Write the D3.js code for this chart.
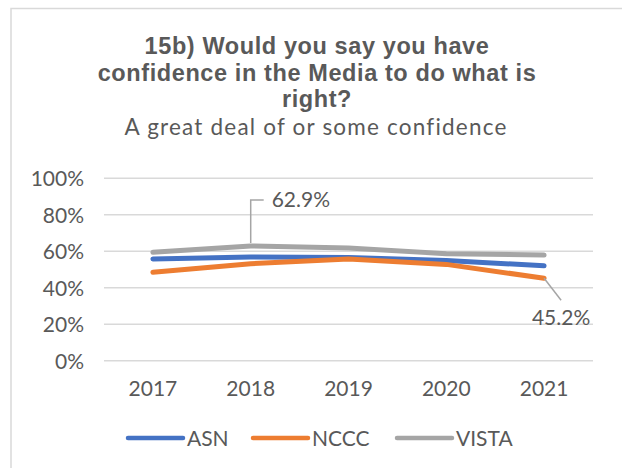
<!DOCTYPE html>
<html>
<head>
<meta charset="utf-8">
<script src="https://cdn.jsdelivr.net/npm/d3@7"></script>
<style>
  html, body { margin: 0; padding: 0; background: #fff; }
  svg { display: block; }
  text { font-family: Lato, "Open Sans", sans-serif; fill: #595959; }
</style>
</head>
<body>
<svg id="chart" width="622" height="468"></svg>
<script>
const years = ["2017", "2018", "2019", "2020", "2021"];
const asn   = [55.8, 56.9, 56.6, 55.0, 52.0];
const nccc  = [48.5, 53.2, 55.7, 52.8, 45.2];
const vista = [59.4, 62.9, 61.8, 58.7, 57.9];
const yTicks = [0, 20, 40, 60, 80, 100];
const seriesNames = ["ASN", "NCCC", "VISTA"];
const seriesColors = ["#4472C4", "#ED7D31", "#A5A5A5"];
const titleLines = ["15b) Would you say you have", "confidence in the Media to do what is", "right?"];
const subtitle = "A great deal of or some confidence";

const series = [
  { name: seriesNames[0], values: asn, color: seriesColors[0] },
  { name: seriesNames[1], values: nccc, color: seriesColors[1] },
  { name: seriesNames[2], values: vista, color: seriesColors[2] }
];

const svg = d3.select("#chart");
const W = 622, H = 468;
const plot = { left: 104, right: 593, top: 178.3, bottom: 360.7 };
const labelWeight = "400";

// chart frame
svg.append("rect")
  .attr("x", 11).attr("y", 8.5)
  .attr("width", W + 20).attr("height", H + 20)
  .attr("fill", "#fff").attr("stroke", "#d9d9d9").attr("stroke-width", 1.5);

// title (one text element per line)
const titleY = [53.5, 80.5, 107];
svg.append("g").selectAll("text").data(titleLines).join("text")
  .attr("x", 317).attr("y", (d, i) => titleY[i])
  .attr("text-anchor", "middle")
  .style("font-family", '"Liberation Sans", Arial, sans-serif')
  .style("font-weight", "700").style("font-size", "23.5px")
  .style("letter-spacing", "0.6px")
  .text(d => d);
svg.append("text")
  .attr("x", 316).attr("y", 134.5)
  .attr("text-anchor", "middle")
  .style("font-size", "22.5px").style("font-weight", labelWeight)
  .style("letter-spacing", "1.2px")
  .text(subtitle);

const x = d3.scaleBand().domain(years).range([plot.left, plot.right]).padding(0);
const y = d3.scaleLinear().domain([0, 100]).range([plot.bottom, plot.top]);
const xc = d => x(d) + x.bandwidth() / 2;

// gridlines
svg.append("g").selectAll("line").data(yTicks).join("line")
  .attr("x1", plot.left).attr("x2", plot.right)
  .attr("y1", d => y(d)).attr("y2", d => y(d))
  .attr("stroke", "#d9d9d9").attr("stroke-width", 1.5);

// y axis
const yAxis = d3.axisLeft(y).tickValues(yTicks).tickFormat(d => d + "%").tickSize(0).tickPadding(0);
const gy = svg.append("g").attr("transform", `translate(${84},0)`).call(yAxis);
gy.select(".domain").remove();
gy.selectAll("text").style("font-size", "21px").style("font-family", 'Lato, sans-serif').style("font-weight", labelWeight).attr("fill", "#595959").attr("dy", "0.35em");

// x axis
const xAxis = d3.axisBottom(x).tickSize(0).tickPadding(0);
const gx = svg.append("g").attr("transform", `translate(0,${plot.bottom})`).call(xAxis);
gx.select(".domain").remove();
gx.selectAll("text").style("font-size", "21px").style("font-family", 'Lato, sans-serif').style("font-weight", labelWeight).attr("fill", "#595959").attr("y", 35).attr("dy", 0);

// lines
const line = d3.line().x((d, i) => xc(years[i])).y(d => y(d));
svg.append("g").selectAll("path").data(series).join("path")
  .attr("d", d => line(d.values))
  .attr("fill", "none")
  .attr("stroke", d => d.color)
  .attr("stroke-width", 5)
  .attr("stroke-linecap", "round")
  .attr("stroke-linejoin", "round");

// data labels
const lab1x = xc(years[1]), lab1y = y(vista[1]);
svg.append("polyline")
  .attr("points", `${lab1x},${lab1y - 3} ${lab1x},${lab1y - 46} ${lab1x + 13},${lab1y - 46}`)
  .attr("fill", "none").attr("stroke", "#A5A5A5").attr("stroke-width", 1.5);
svg.append("text")
  .attr("x", lab1x + 21).attr("y", lab1y - 39)
  .style("font-size", "21px").style("font-weight", labelWeight)
  .text(vista[1].toFixed(1) + "%");

const lab2x = xc(years[4]), lab2y = y(nccc[4]);
svg.append("line")
  .attr("x1", lab2x).attr("y1", lab2y)
  .attr("x2", lab2x + 17).attr("y2", lab2y + 22)
  .attr("stroke", "#A5A5A5").attr("stroke-width", 1.5);
svg.append("text")
  .attr("x", lab2x + 17).attr("y", lab2y + 47)
  .attr("text-anchor", "middle")
  .style("font-size", "21px").style("font-weight", labelWeight)
  .text(nccc[4].toFixed(1) + "%");

// legend
const legendX = [128, 253, 397];
const lg = svg.append("g").selectAll("g").data(series).join("g")
  .attr("transform", (d, i) => `translate(${legendX[i]},438)`);
lg.append("line").attr("x1", 0).attr("x2", 55).attr("y1", 0).attr("y2", 0)
  .attr("stroke", d => d.color).attr("stroke-width", 4.5).attr("stroke-linecap", "round");
lg.append("text").attr("x", 59).attr("y", 7.5)
  .style("font-size", "21px").style("font-weight", labelWeight)
  .text(d => d.name);
</script>
</body>
</html>
